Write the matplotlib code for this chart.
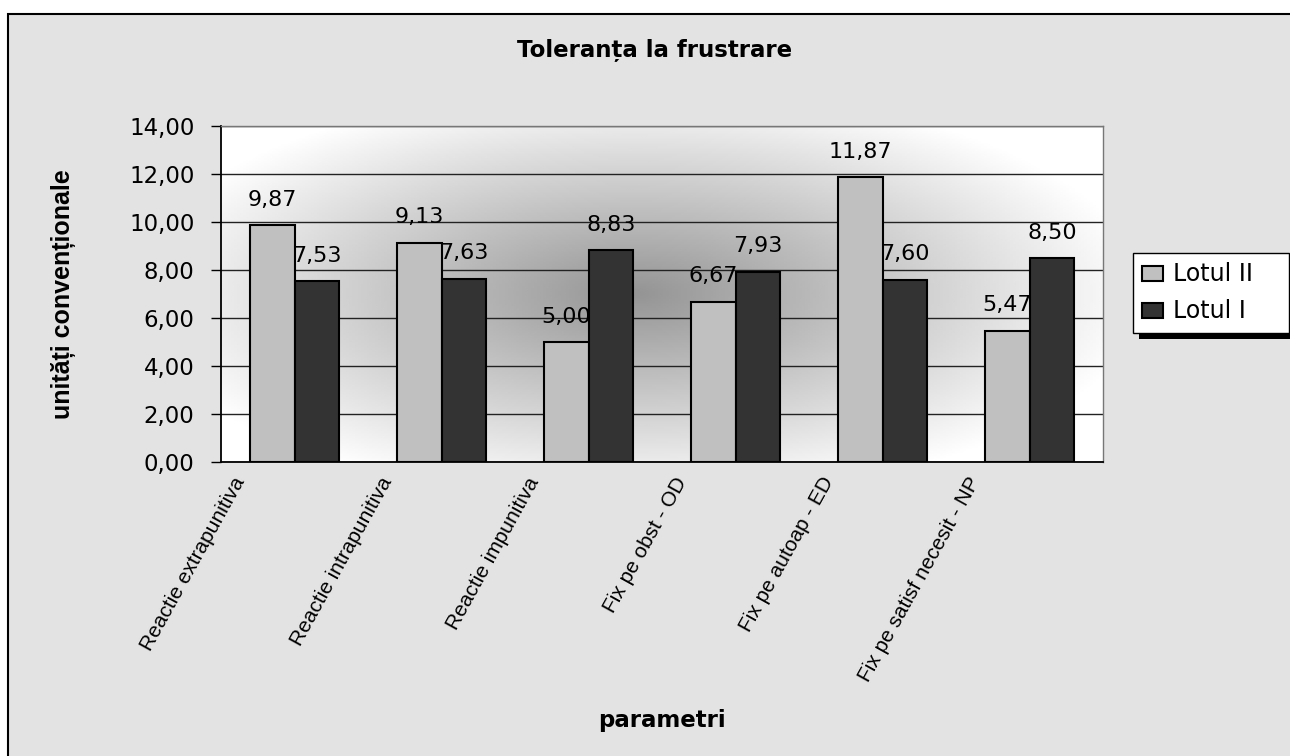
import numpy as np
import matplotlib
matplotlib.use("Agg")
import matplotlib.pyplot as plt
from matplotlib.patches import Rectangle
import matplotlib.patheffects as pe
import matplotlib.transforms as mtransforms

plt.rcParams['font.family'] = ['Liberation Sans', 'DejaVu Sans']
WIDE = ['DejaVu Sans', 'Liberation Sans']

categories = ["Reactie extrapunitiva", "Reactie intrapunitiva", "Reactie impunitiva",
              "Fix pe obst - OD", "Fix pe autoap - ED", "Fix pe satisf necesit - NP"]
lotul_II = [9.87, 9.13, 5.00, 6.67, 11.87, 5.47]
lotul_I = [7.53, 7.63, 8.83, 7.93, 7.60, 8.50]
series_names = ["Lotul II", "Lotul I"]
yticks = [0, 2, 4, 6, 8, 10, 12, 14]
title = "Toleranța la frustrare"
ylabel = "unități convenționale"
xlabel = "parametri"

W, H = 1290, 756
fig = plt.figure(figsize=(W / 100, H / 100), dpi=100, facecolor="white")

# background panel with border (top & left visible)
bg = Rectangle((8 / W, -0.05), 1.2, (H - 14) / H + 0.05, transform=fig.transFigure,
               facecolor="#e3e3e3", edgecolor="black", linewidth=1.5, zorder=-10)
fig.patches.append(bg)

ax_l, ax_r, ax_t, ax_b = 221, 1103, 126, 462
ax = fig.add_axes([ax_l / W, 1 - ax_b / H, (ax_r - ax_l) / W, (ax_b - ax_t) / H])

# radial gradient plot area
gx = np.linspace(0, 1, 300)
gy = np.linspace(0, 1, 200)
GX, GY = np.meshgrid(gx, gy)
r = np.sqrt(((GX - 0.47) / 0.58) ** 2 + ((GY - 0.5) / 0.62) ** 2)
val = 1 - 0.42 * np.clip(1 - r, 0, 1) ** 1.0
ax.imshow(val, extent=[0, 1, 0, 1], transform=ax.transAxes, cmap="gray", vmin=0, vmax=1,
          aspect="auto", zorder=0, interpolation="bilinear")

x = np.arange(len(categories))
bw = 0.305
b1 = ax.bar(x - bw / 2, lotul_II, bw, color="#c0c0c0", edgecolor="black", linewidth=1.5,
            label=series_names[0], zorder=3)
b2 = ax.bar(x + bw / 2, lotul_I, bw, color="#333333", edgecolor="black", linewidth=1.5,
            label=series_names[1], zorder=3)

for bars, vals in ((b1, lotul_II), (b2, lotul_I)):
    for b, v in zip(bars, vals):
        ax.annotate(f"{v:.2f}".replace(".", ","), (b.get_x() + b.get_width() / 2, v),
                    xytext=(0, 14), textcoords="offset points", ha="center", va="baseline",
                    fontsize=16, family=WIDE, zorder=5)

ax.set_xlim(-0.5, len(categories) - 0.5)
ax.set_ylim(0, 14)
ax.set_yticks(yticks)
ax.set_yticklabels([f"{t:.2f}".replace(".", ",") for t in yticks], fontsize=16.5,
                   family=WIDE)
ax.tick_params(axis="y", direction="out", length=7, width=1, pad=12)
ax.grid(axis="y", color="#222222", linewidth=1, zorder=1)
ax.set_axisbelow(True)
for s in ("left", "bottom"):
    ax.spines[s].set_color("black")
    ax.spines[s].set_linewidth(1.3)
for s in ("top", "right"):
    ax.spines[s].set_color("#777777")
    ax.spines[s].set_linewidth(1.0)

ax.set_xticks(x)
ax.set_xticklabels(categories, rotation=61, ha="right", va="top", rotation_mode="anchor",
                   fontsize=15)
ax.tick_params(axis="x", length=0, pad=0)
offset = mtransforms.ScaledTranslation(-62 / 100, -12 / 100, fig.dpi_scale_trans)
for lbl in ax.get_xticklabels():
    lbl.set_transform(lbl.get_transform() + offset)

fig.text(64 / W, 1 - 294 / H, ylabel, rotation=90, ha="center", va="center",
         fontsize=18, fontweight="bold")
fig.text(662 / W, 1 - 721 / H, xlabel, ha="center", va="center", fontsize=16.5,
         fontweight="bold", family=WIDE)
fig.text(655 / W, 1 - 56 / H, title, ha="center", va="baseline", fontsize=16.5,
         fontweight="bold", family=WIDE)

leg = fig.legend(handles=[b1, b2], labels=series_names, loc="upper left",
                 bbox_to_anchor=(1133 / W, 1 - 334 / H, 156 / W, 81 / H), mode="expand",
                 borderaxespad=0, fancybox=False, edgecolor="black", framealpha=1,
                 prop={'family': WIDE, 'size': 17}, handlelength=0.85, handleheight=0.6,
                 handletextpad=0.45, labelspacing=0.55, borderpad=0.4)
leg.get_frame().set_linewidth(1.0)
leg.get_frame().set_path_effects([pe.SimplePatchShadow(offset=(4.5, -4.5),
                                                       shadow_rgbFace="black", alpha=1),
                                  pe.Normal()])

fig.savefig("out.png", dpi=100, facecolor=fig.get_facecolor())
